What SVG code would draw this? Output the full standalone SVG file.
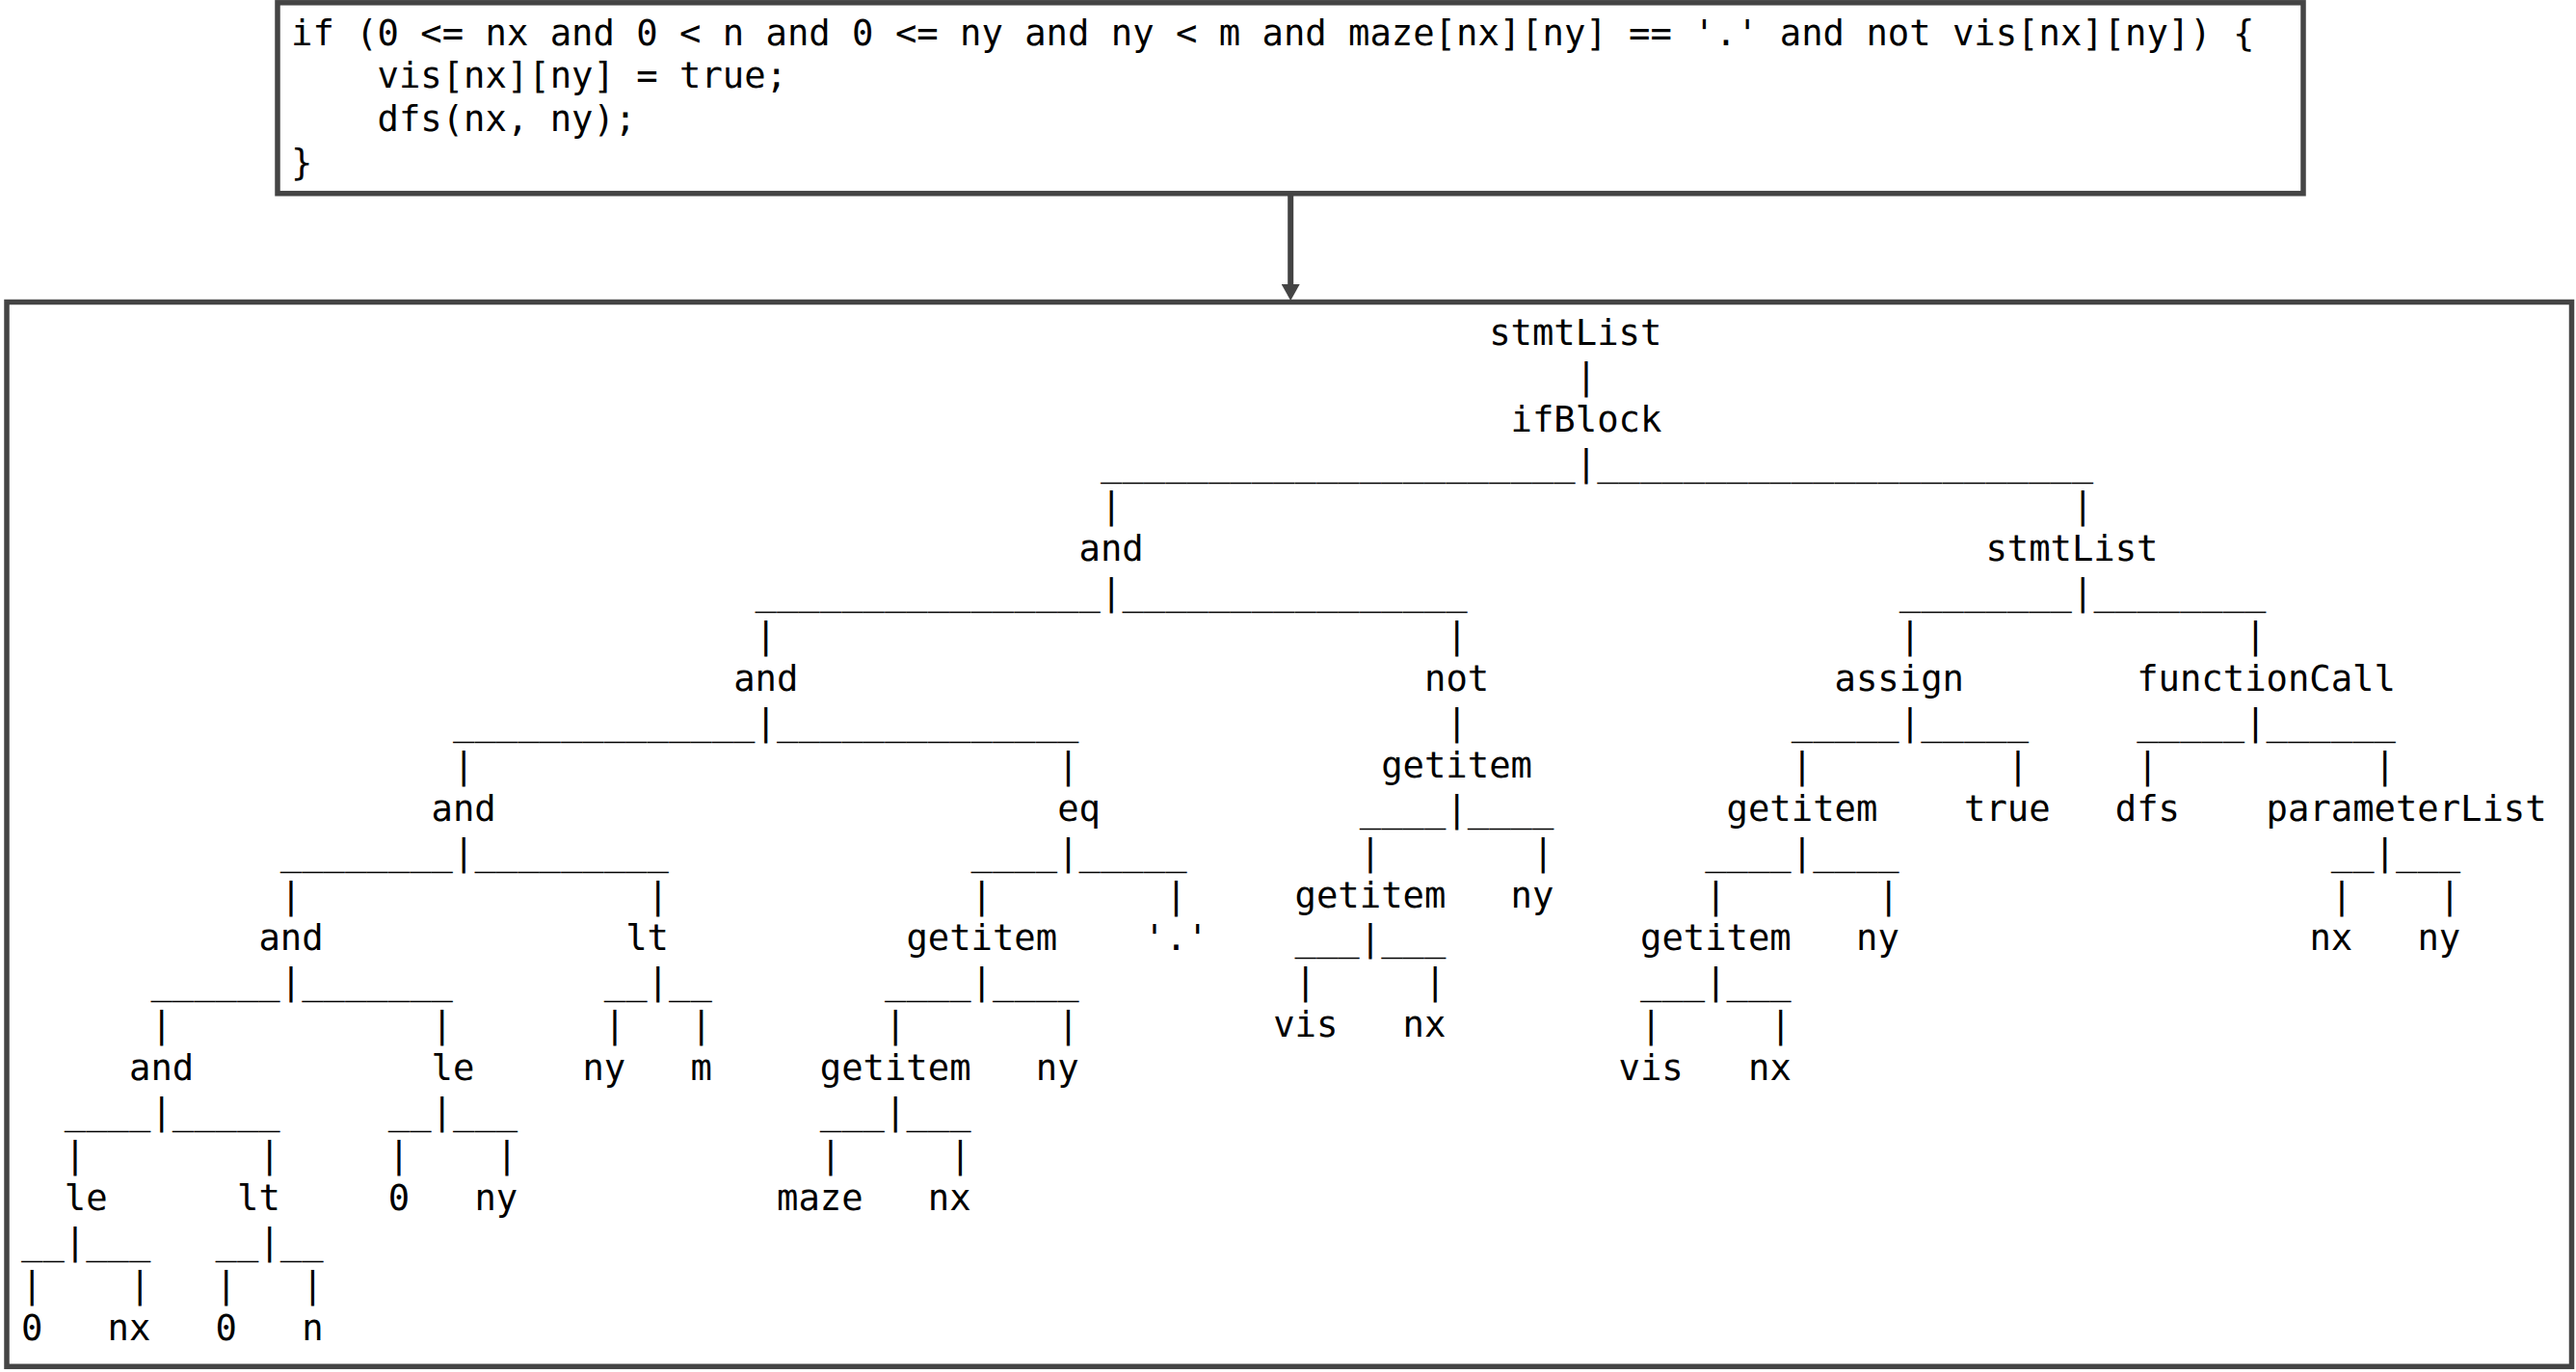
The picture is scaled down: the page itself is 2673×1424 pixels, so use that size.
<svg xmlns="http://www.w3.org/2000/svg" width="2673" height="1424" viewBox="0 0 2673 1424">
<style>
.box { fill: #ffffff; stroke: #444444; stroke-width: 5.5; }
.mono { font-family: "DejaVu Sans Mono", "Liberation Mono", monospace; font-size: 37.2px; fill: #000000; white-space: pre; }
.edge { stroke: #444444; stroke-width: 6; fill: none; }
</style>
<defs>
<marker id="arrowhead" markerUnits="userSpaceOnUse" markerWidth="17" markerHeight="19" viewBox="0 0 17 19" refX="0" refY="9.5" orient="auto">
<path d="M0,0 L17,9.5 L0,19 Z" fill="#444444"/>
</marker>
</defs>
<rect x="0" y="0" width="2673" height="1424" fill="#ffffff"/>

<g id="code">
<rect class="box" x="288" y="2.8" width="2102" height="198"/>
<text class="mono" xml:space="preserve" x="302" y="46.5">if (0 &lt;= nx and 0 &lt; n and 0 &lt;= ny and ny &lt; m and maze[nx][ny] == '.' and not vis[nx][ny]) {</text>
<text class="mono" xml:space="preserve" x="302" y="91.4">    vis[nx][ny] = true;</text>
<text class="mono" xml:space="preserve" x="302" y="136.3">    dfs(nx, ny);</text>
<text class="mono" xml:space="preserve" x="302" y="181.2">}</text>
</g>

<g id="connectors">
<line class="edge" x1="1339.2" y1="203" x2="1339.2" y2="295" marker-end="url(#arrowhead)"/>
</g>

<g id="tree">
<rect class="box" x="7" y="313.5" width="2661.5" height="1104.8"/>
<text class="mono" y="357.8"><tspan x="1545.2">stmtList</tspan></text>
<text class="mono" y="402.7"><tspan x="1634.8">|</tspan></text>
<text class="mono" y="447.6"><tspan x="1567.6">ifBlock</tspan></text>
<text class="mono" y="492.5"><tspan x="1142">______________________</tspan><tspan x="1634.8">|</tspan><tspan x="1657.2">_______________________</tspan></text>
<text class="mono" y="537.4"><tspan x="1142">|</tspan><tspan x="2150">|</tspan></text>
<text class="mono" y="582.3"><tspan x="1119.6">and</tspan><tspan x="2060.4">stmtList</tspan></text>
<text class="mono" y="627.2"><tspan x="783.6">________________</tspan><tspan x="1142">|</tspan><tspan x="1164.4">________________</tspan><tspan x="1970.8">________</tspan><tspan x="2150">|</tspan><tspan x="2172.4">________</tspan></text>
<text class="mono" y="672.1"><tspan x="783.6">|</tspan><tspan x="1500.4">|</tspan><tspan x="1970.8">|</tspan><tspan x="2329.2">|</tspan></text>
<text class="mono" y="717"><tspan x="761.2">and</tspan><tspan x="1478">not</tspan><tspan x="1903.6">assign</tspan><tspan x="2217.2">functionCall</tspan></text>
<text class="mono" y="761.9"><tspan x="470">______________</tspan><tspan x="783.6">|</tspan><tspan x="806">______________</tspan><tspan x="1500.4">|</tspan><tspan x="1858.8">_____</tspan><tspan x="1970.8">|</tspan><tspan x="1993.2">_____</tspan><tspan x="2217.2">_____</tspan><tspan x="2329.2">|</tspan><tspan x="2351.6">______</tspan></text>
<text class="mono" y="806.8"><tspan x="470">|</tspan><tspan x="1097.2">|</tspan><tspan x="1433.2">getitem</tspan><tspan x="1858.8">|</tspan><tspan x="2082.8">|</tspan><tspan x="2217.2">|</tspan><tspan x="2463.6">|</tspan></text>
<text class="mono" y="851.7"><tspan x="447.6">and</tspan><tspan x="1097.2">eq</tspan><tspan x="1410.8">____</tspan><tspan x="1500.4">|</tspan><tspan x="1522.8">____</tspan><tspan x="1791.6">getitem</tspan><tspan x="2038">true</tspan><tspan x="2194.8">dfs</tspan><tspan x="2351.6">parameterList</tspan></text>
<text class="mono" y="896.6"><tspan x="290.8">________</tspan><tspan x="470">|</tspan><tspan x="492.4">_________</tspan><tspan x="1007.6">____</tspan><tspan x="1097.2">|</tspan><tspan x="1119.6">_____</tspan><tspan x="1410.8">|</tspan><tspan x="1590">|</tspan><tspan x="1769.2">____</tspan><tspan x="1858.8">|</tspan><tspan x="1881.2">____</tspan><tspan x="2418.8">__</tspan><tspan x="2463.6">|</tspan><tspan x="2486">___</tspan></text>
<text class="mono" y="941.5"><tspan x="290.8">|</tspan><tspan x="671.6">|</tspan><tspan x="1007.6">|</tspan><tspan x="1209.2">|</tspan><tspan x="1343.6">getitem</tspan><tspan x="1567.6">ny</tspan><tspan x="1769.2">|</tspan><tspan x="1948.4">|</tspan><tspan x="2418.8">|</tspan><tspan x="2530.8">|</tspan></text>
<text class="mono" y="986.4"><tspan x="268.4">and</tspan><tspan x="649.2">lt</tspan><tspan x="940.4">getitem</tspan><tspan x="1186.8">'.'</tspan><tspan x="1343.6">___</tspan><tspan x="1410.8">|</tspan><tspan x="1433.2">___</tspan><tspan x="1702">getitem</tspan><tspan x="1926">ny</tspan><tspan x="2396.4">nx</tspan><tspan x="2508.4">ny</tspan></text>
<text class="mono" y="1031.3"><tspan x="156.4">______</tspan><tspan x="290.8">|</tspan><tspan x="313.2">_______</tspan><tspan x="626.8">__</tspan><tspan x="671.6">|</tspan><tspan x="694">__</tspan><tspan x="918">____</tspan><tspan x="1007.6">|</tspan><tspan x="1030">____</tspan><tspan x="1343.6">|</tspan><tspan x="1478">|</tspan><tspan x="1702">___</tspan><tspan x="1769.2">|</tspan><tspan x="1791.6">___</tspan></text>
<text class="mono" y="1076.2"><tspan x="156.4">|</tspan><tspan x="447.6">|</tspan><tspan x="626.8">|</tspan><tspan x="716.4">|</tspan><tspan x="918">|</tspan><tspan x="1097.2">|</tspan><tspan x="1321.2">vis</tspan><tspan x="1455.6">nx</tspan><tspan x="1702">|</tspan><tspan x="1836.4">|</tspan></text>
<text class="mono" y="1121.1"><tspan x="134">and</tspan><tspan x="447.6">le</tspan><tspan x="604.4">ny</tspan><tspan x="716.4">m</tspan><tspan x="850.8">getitem</tspan><tspan x="1074.8">ny</tspan><tspan x="1679.6">vis</tspan><tspan x="1814">nx</tspan></text>
<text class="mono" y="1166"><tspan x="66.8">____</tspan><tspan x="156.4">|</tspan><tspan x="178.8">_____</tspan><tspan x="402.8">__</tspan><tspan x="447.6">|</tspan><tspan x="470">___</tspan><tspan x="850.8">___</tspan><tspan x="918">|</tspan><tspan x="940.4">___</tspan></text>
<text class="mono" y="1210.9"><tspan x="66.8">|</tspan><tspan x="268.4">|</tspan><tspan x="402.8">|</tspan><tspan x="514.8">|</tspan><tspan x="850.8">|</tspan><tspan x="985.2">|</tspan></text>
<text class="mono" y="1255.8"><tspan x="66.8">le</tspan><tspan x="246">lt</tspan><tspan x="402.8">0</tspan><tspan x="492.4">ny</tspan><tspan x="806">maze</tspan><tspan x="962.8">nx</tspan></text>
<text class="mono" y="1300.7"><tspan x="22">__</tspan><tspan x="66.8">|</tspan><tspan x="89.2">___</tspan><tspan x="223.6">__</tspan><tspan x="268.4">|</tspan><tspan x="290.8">__</tspan></text>
<text class="mono" y="1345.6"><tspan x="22">|</tspan><tspan x="134">|</tspan><tspan x="223.6">|</tspan><tspan x="313.2">|</tspan></text>
<text class="mono" y="1390.5"><tspan x="22">0</tspan><tspan x="111.6">nx</tspan><tspan x="223.6">0</tspan><tspan x="313.2">n</tspan></text>
</g>
</svg>
